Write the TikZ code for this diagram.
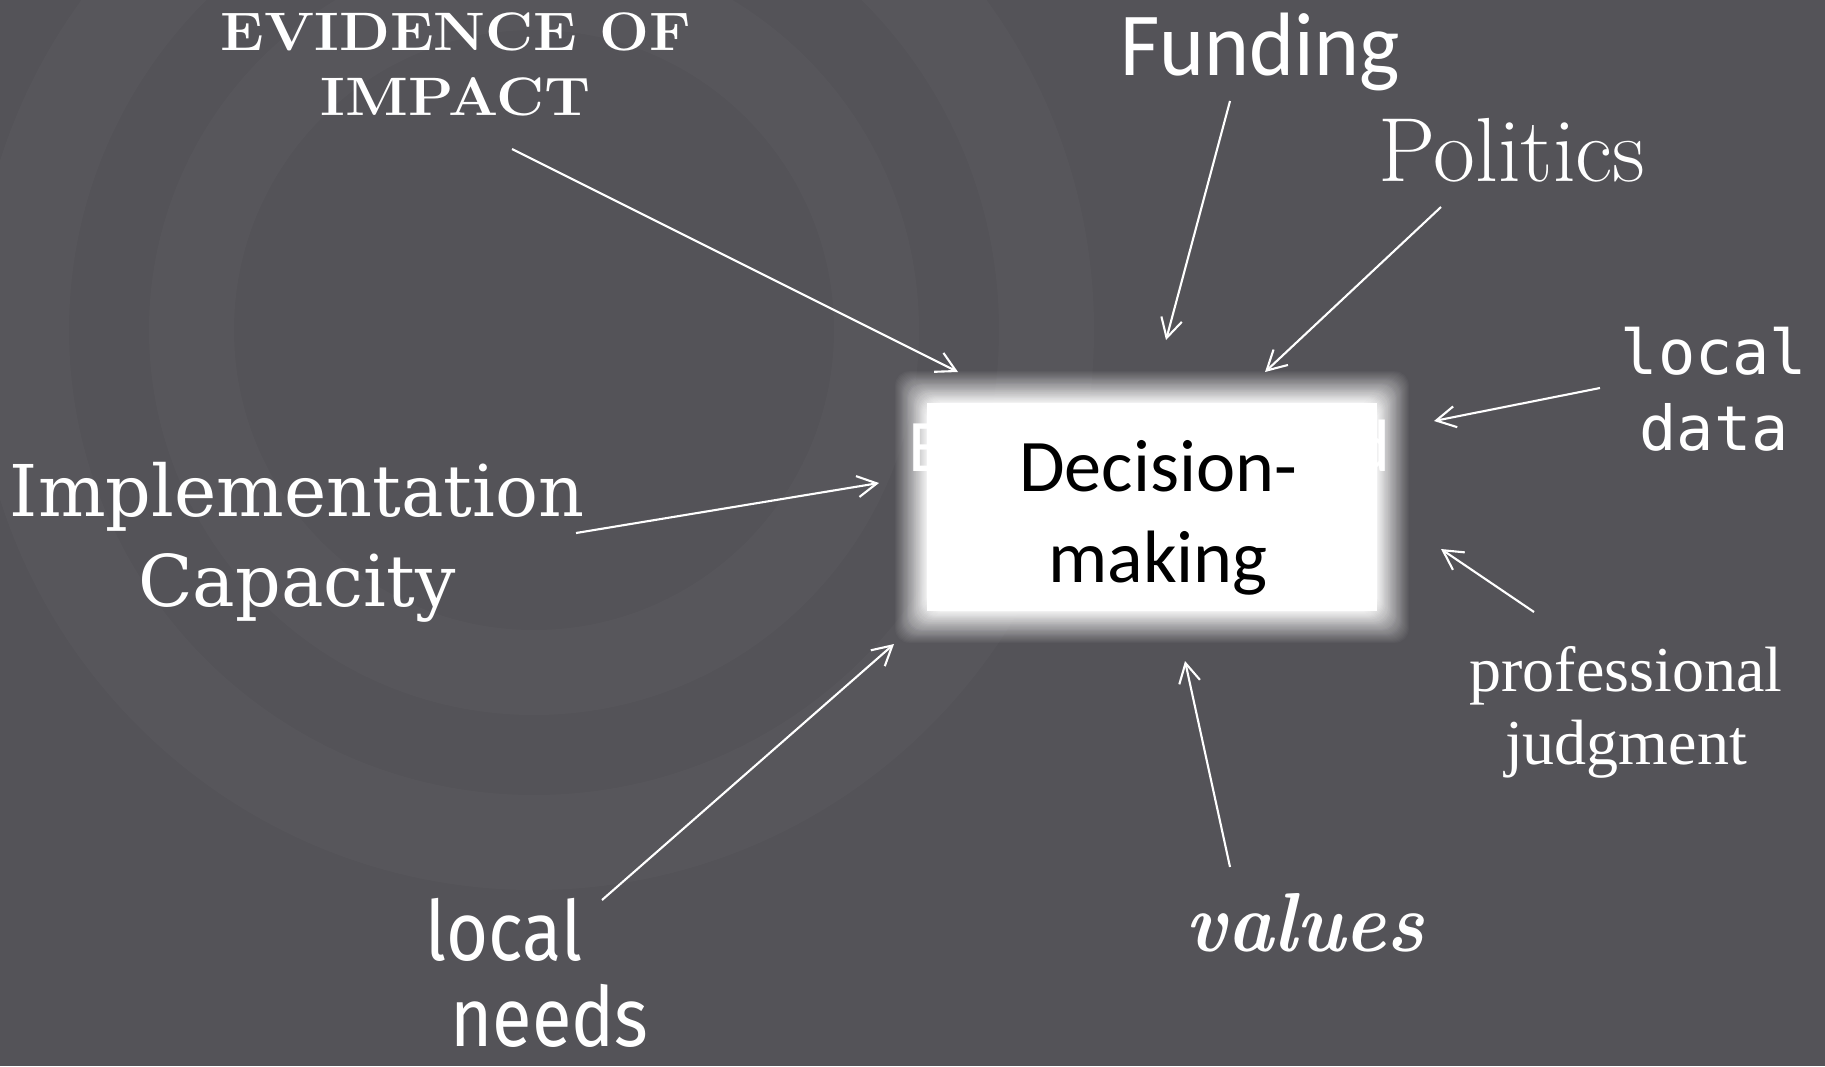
\documentclass[tikz,border=0pt]{standalone}
\usepackage{fontspec}
\usepackage{graphicx}
\usepackage{tikz}
\usetikzlibrary{arrows.meta, positioning}
\newfontfamily\fcalib{Carlito}
\newfontfamily\fslab{DejaVu Serif}
\newfontfamily\fcode{DejaVu Sans Mono}
\newfontfamily\ftimes{Liberation Serif}
\newfontfamily\fhand[FakeStretch=0.87]{Fira Sans}
\definecolor{slate}{RGB}{84,83,88}
\pgfdeclarelayer{bg}
\pgfsetlayers{bg,main}

\begin{document}
\begin{tikzpicture}[x=0.01cm, y=-0.01cm,
		lbl/.style={white, inner sep=0pt, align=center},
		arr/.style={white, line width=0.6pt, -{Straight Barb[length=5.5pt,width=6pt]}},
		ring/.style={white, opacity=0.018, even odd rule}]
				\useasboundingbox (0,0) rectangle (1825,1066);

				% the decision box and what leaks out behind it
				\node[minimum width=4.8cm, minimum height=2.38cm, inner sep=0pt] (dm) at (1152,507) {};
				\node[inner sep=0pt, align=center, font=\fcalib\fontsize{21.1}{26}\selectfont] (dmtxt) at (1158,518)
					{Decision-\\making};
				\node[white, inner sep=0pt, anchor=base west, font=\fcalib\fontsize{21.1}{26}\selectfont] (ebit) at (908,471) {E};
				\node[white, inner sep=0pt, anchor=base east, font=\fcalib\fontsize{21.1}{26}\selectfont] (dbit) at (1391,471) {d};

				\begin{pgfonlayer}{bg}
					\fill[slate] (0,0) rectangle (1825,1066);
					\fill[ring] (534,330) circle[radius=385] (534,330) circle[radius=300];
					\fill[ring] (534,330) circle[radius=560] (534,330) circle[radius=465];
					% soft edge: a ramp of white layers
					\fill[white] ([shift={(16,16)}]dm.north west) rectangle ([shift={(-16,-16)}]dm.south east);
					\foreach \e [evaluate=\e as \op using 1/(17+\e)] in {-15,...,16}
						\fill[white, opacity=\op, rounded corners=4]
							([shift={(-\e,-\e)}]dm.north west) rectangle ([shift={(\e,\e)}]dm.south east);
				\end{pgfonlayer}

				% labels round the box
				\node[lbl, anchor=north, font=\bfseries\fontsize{15.4}{18.5}\selectfont] (evid) at (456,12)
					{\scalebox{1.09}[1]{EVIDENCE OF}\\\scalebox{1.09}[1]{IMPACT}};
				\node[lbl, anchor=north, font=\fcalib\fontsize{25.6}{30}\selectfont] (fund) at (1260,12) {\scalebox{0.95}[1]{Funding}};
				\node[lbl, anchor=north, font=\fontsize{25.9}{30}\selectfont] (polit) at (1512,118) {Politics};
				\node[lbl, anchor=north, font=\fcode\fontsize{17.6}{21.6}\selectfont] (ldata) at (1714,326) {local\\data};
				\node[lbl, anchor=north, font=\fslab\fontsize{20.3}{25.4}\selectfont] (impl) at (297,462) {Implementation\\Capacity};
				\node[lbl, anchor=north, font=\ftimes\fontsize{18.2}{20.8}\selectfont] (prof) at (1626,646) {professional\\judgment};
				\node[lbl, anchor=north, font=\bfseries\itshape\fontsize{23.8}{28}\selectfont] (vals) at (1305,893) {\scalebox{0.93}[1]{values}};
				\node[lbl, anchor=north west, align=left, font=\fhand\fontsize{23.6}{24.2}\selectfont] (lneeds) at (425,898)
					{local\\\hspace*{0.3em}needs};

				% where the arrows start and stop
				\coordinate (evid-t) at (512,149);   \coordinate (evid-h) at (958,372);
				\coordinate (fund-t) at (1230,101);  \coordinate (fund-h) at (1166,340);
				\coordinate (polit-t) at (1441,207); \coordinate (polit-h) at (1265,372);
				\coordinate (ldata-t) at (1600,388); \coordinate (ldata-h) at (1434,421);
				\coordinate (impl-t) at (576,533);   \coordinate (impl-h) at (879,483);
				\coordinate (prof-t) at (1534,612);  \coordinate (prof-h) at (1441,549);
				\coordinate (vals-t) at (1230,867);  \coordinate (vals-h) at (1185,661);
				\coordinate (lneeds-t) at (602,900); \coordinate (lneeds-h) at (894,644);

				\foreach \src in {evid, fund, polit, ldata, impl, prof, vals, lneeds}
					\draw[arr] (\src-t) -- (\src-h);

			\end{tikzpicture}
\end{document}
